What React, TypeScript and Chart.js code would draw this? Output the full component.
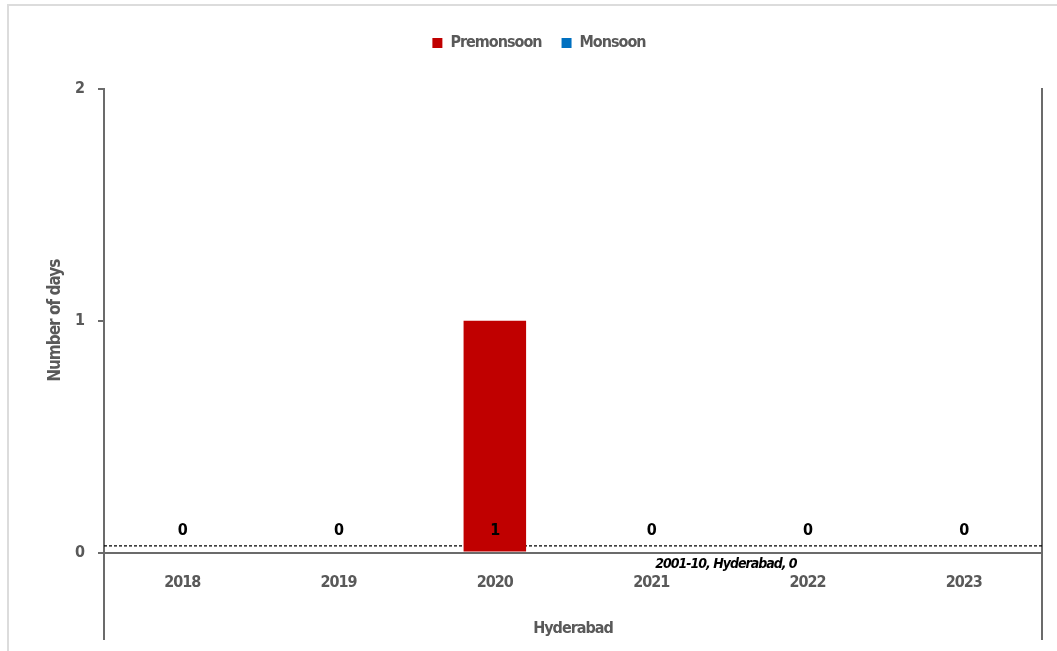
import React, { useEffect, useRef } from "react";
import { Chart, registerables } from "chart.js";

Chart.register(...registerables);

// Categories and series
const years = ["2018", "2019", "2020", "2021", "2022", "2023"];
const premonsoonDays = [0, 0, 1, 0, 0, 0];
const monsoonDays = [0, 0, 0, 0, 0, 0];

// Reference period average drawn as a dotted line across the plot
const referencePeriod = "2001-10";
const cityName = "Hyderabad";
const referenceDays = [0];
const referenceLabelAt = 3; // category index where its label starts

const yTicks = [0, 1, 2];

const FONT = "'DejaVu Sans Condensed', 'DejaVu Sans', sans-serif";
const GREY = "#595959";
const AXIS = "#6b6b6b";
const SPACING = "-1px";

const tightText = (chart: any) => {
  chart.ctx.letterSpacing = SPACING;
};

const decorations = {
  id: "decorations",
  beforeUpdate: tightText,
  beforeLayout(chart: any) {
    tightText(chart);
    const legend = chart.legend;
    if (legend && !legend.__extraGap) {
      const fit = legend.fit;
      legend.fit = function () {
        fit.call(this);
        this.height += 28;
      };
      legend.__extraGap = true;
    }
  },
  beforeDraw: tightText,
  afterDatasetsDraw(chart: any) {
    const { ctx, scales } = chart;
    const x = scales.x;
    const y = scales.y;
    const base = y.getPixelForValue(0);
    ctx.save();
    // value labels near the bar base
    ctx.fillStyle = "#000";
    ctx.font = `bold 16px ${FONT}`;
    ctx.textAlign = "center";
    ctx.textBaseline = "middle";
    premonsoonDays.forEach((v, i) => {
      ctx.fillText(String(v), x.getPixelForValue(i), base - 22);
    });
    // label of the reference line
    ctx.font = `italic bold 14px ${FONT}`;
    ctx.textAlign = "left";
    ctx.fillText(
      `${referencePeriod}, ${cityName}, ${referenceDays[0]}`,
      x.getPixelForValue(referenceLabelAt) + 4,
      y.getPixelForValue(referenceDays[0]) + 12
    );
    ctx.restore();
  },
  afterDraw(chart: any) {
    const { ctx, chartArea } = chart;
    ctx.save();
    ctx.strokeStyle = AXIS;
    ctx.lineWidth = 2;
    ctx.beginPath();
    ctx.moveTo(chartArea.left, chartArea.bottom);
    ctx.lineTo(chartArea.left, 640);
    ctx.moveTo(chartArea.right, chartArea.bottom);
    ctx.lineTo(chartArea.right, 640);
    ctx.stroke();
    ctx.restore();
  },
  beforeDatasetDraw(chart: any, args: any) {
    if (args.meta.type === "line") {
      chart.ctx.save();
      chart.ctx.translate(0, -6);
    }
  },
  afterDatasetDraw(chart: any, args: any) {
    if (args.meta.type === "line") chart.ctx.restore();
  },
};

export default function App() {
  const ref = useRef<HTMLCanvasElement>(null);

  useEffect(() => {
    if (!ref.current) return;
    const chart = new Chart(ref.current, {
      type: "bar",
      data: {
        labels: years,
        datasets: [
          {
            label: "Premonsoon",
            data: premonsoonDays,
            backgroundColor: "#C00000",
            borderWidth: 0,
            grouped: false,
            categoryPercentage: 0.4,
            barPercentage: 1,
          },
          {
            label: "Monsoon",
            data: monsoonDays,
            backgroundColor: "#0070C0",
            borderWidth: 0,
            grouped: false,
            categoryPercentage: 0.4,
            barPercentage: 1,
          },
          {
            type: "line",
            label: `${referencePeriod}, ${cityName}`,
            data: [
              { x: 0, y: referenceDays[0] },
              { x: 1, y: referenceDays[0] },
            ],
            xAxisID: "xr",
            borderColor: "#000",
            borderWidth: 2.5,
            borderDash: [3, 2],
            pointRadius: 0,
            fill: false,
          } as any,
        ],
      },
      options: {
        responsive: false,
        animation: false,
        layout: { padding: { left: 36, right: 15, top: 15, bottom: 0 } },
        plugins: {
          tooltip: { enabled: false },
          legend: {
            position: "top",
            labels: {
              boxWidth: 10,
              boxHeight: 10,
              padding: 20,
              color: GREY,
              font: { family: FONT, size: 16, weight: "bold" },
              filter: (item: any) => item.datasetIndex < 2,
            },
          },
        },
        scales: {
          x: {
            type: "category",
            grid: { display: false, drawTicks: false },
            border: { display: true, color: AXIS, width: 2 },
            ticks: {
              color: GREY,
              padding: 21,
              font: { family: FONT, size: 16, weight: "bold" },
            },
            title: {
              display: true,
              text: cityName,
              color: GREY,
              font: { family: FONT, size: 16, weight: "bold" },
              padding: { top: 5, bottom: 13 },
            },
          },
          xr: {
            type: "linear",
            display: false,
            offset: false,
            min: 0,
            max: 1,
          },
          y: {
            type: "linear",
            position: "left",
            min: yTicks[0],
            max: yTicks[yTicks.length - 1],
            afterBuildTicks: (s: any) => {
              s.ticks = yTicks.map((v) => ({ value: v }));
            },
            afterFit: (s: any) => {
              s.width = 68;
            },
            grid: {
              display: true,
              drawOnChartArea: false,
              drawTicks: true,
              tickLength: 6,
              color: AXIS,
              lineWidth: 2,
            },
            border: { display: true, color: AXIS, width: 2 },
            ticks: {
              color: GREY,
              padding: 14,
              font: { family: FONT, size: 16, weight: "bold" },
            },
            title: {
              display: true,
              text: "Number of days",
              color: GREY,
              font: { family: FONT, size: 17, weight: "bold" },
              padding: { top: 9, bottom: 0 },
            },
          },
          y2: {
            type: "linear",
            position: "right",
            min: 0,
            max: 2,
            grid: { display: false, drawTicks: false },
            ticks: { display: false },
            border: { display: true, color: AXIS, width: 2 },
            afterFit: (s: any) => {
              s.width = 0;
            },
          },
        },
      },
      plugins: [decorations],
    });
    return () => chart.destroy();
  }, []);

  return (
    <div style={{ position: "absolute", left: 0, top: 0, width: 1057, height: 651, background: "#fff" }}>
      <div
        style={{
          position: "absolute",
          left: 7,
          top: 4,
          right: 0,
          bottom: 0,
          borderTop: "2px solid #dcdcdc",
          borderLeft: "2px solid #dcdcdc",
        }}
      />
      <canvas ref={ref} width={1057} height={651} style={{ position: "absolute", left: 0, top: 0 }} />
    </div>
  );
}
